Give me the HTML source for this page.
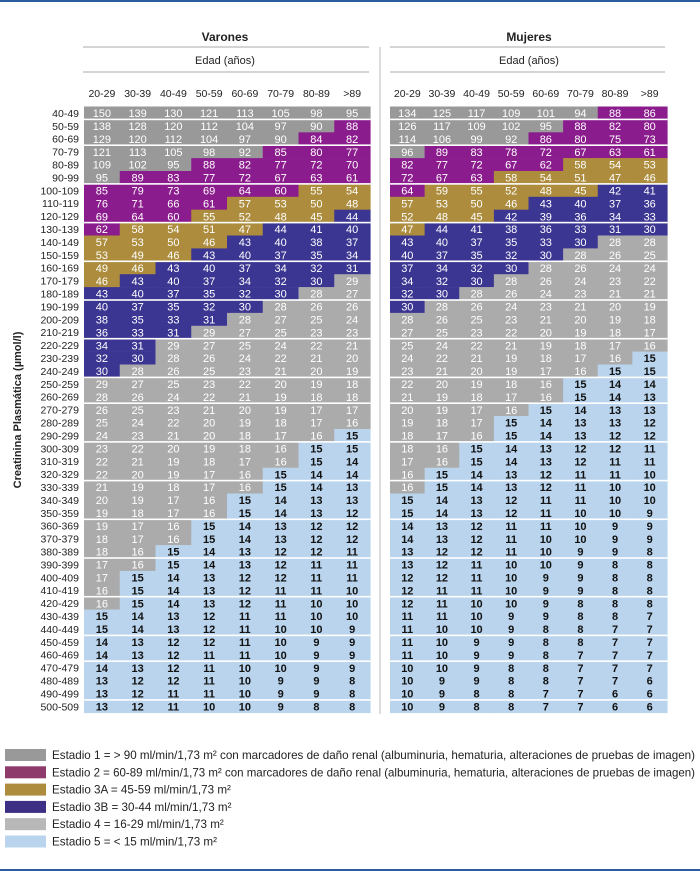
<!DOCTYPE html>
<html><head><meta charset="utf-8"><style>
body{margin:0;background:#fff;}
svg{display:block;font-family:"Liberation Sans Narrow","Liberation Sans",sans-serif;}
</style></head><body>
<svg id="chart" width="700" height="874" viewBox="0 0 700 874" xmlns="http://www.w3.org/2000/svg">
<rect x="0" y="0" width="700" height="2" fill="#2a5c9f"/>
<rect x="0" y="869" width="700" height="2" fill="#2a5c9f"/>
<text x="225" y="41" text-anchor="middle" font-size="12" font-weight="bold" fill="#222">Varones</text>
<text x="529" y="41" text-anchor="middle" font-size="12" font-weight="bold" fill="#222">Mujeres</text>
<line x1="83" y1="47" x2="369" y2="47" stroke="#aaa"/>
<line x1="390" y1="47" x2="665" y2="47" stroke="#aaa"/>
<text x="225" y="64" text-anchor="middle" font-size="11" fill="#222">Edad (años)</text>
<text x="529" y="64" text-anchor="middle" font-size="11" fill="#222">Edad (años)</text>
<line x1="83" y1="72" x2="369" y2="72" stroke="#aaa"/>
<line x1="390" y1="72" x2="665" y2="72" stroke="#aaa"/>
<line x1="380" y1="47" x2="380" y2="714" stroke="#bbb"/>
<text transform="translate(21,410) rotate(-90)" text-anchor="middle" font-size="11" font-weight="bold" fill="#222">Creatinina Plasmática (µmol/l)</text>
<g id="grid"></g>
<g id="legend"></g>
</svg>
<script>
const ages = ["20-29","30-39","40-49","50-59","60-69","70-79","80-89",">89"];
const creat = ["40-49","50-59","60-69","70-79","80-89","90-99","100-109","110-119","120-129","130-139","140-149","150-159","160-169","170-179","180-189","190-199","200-209","210-219","220-229","230-239","240-249","250-259","260-269","270-279","280-289","290-299","300-309","310-319","320-329","330-339","340-349","350-359","360-369","370-379","380-389","390-399","400-409","410-419","420-429","430-439","440-449","450-459","460-469","470-479","480-489","490-499","500-509"];
const groupBreaks = [1,3,6,9,12,15,18,21,23,26,29,32,35,38,41,43,46];
const varones = [
[150,139,130,121,113,105,98,95],[138,128,120,112,104,97,90,88],[129,120,112,104,97,90,84,82],
[121,113,105,98,92,85,80,77],[109,102,95,88,82,77,72,70],[95,89,83,77,72,67,63,61],
[85,79,73,69,64,60,55,54],[76,71,66,61,57,53,50,48],[69,64,60,55,52,48,45,44],
[62,58,54,51,47,44,41,40],[57,53,50,46,43,40,38,37],[53,49,46,43,40,37,35,34],
[49,46,43,40,37,34,32,31],[46,43,40,37,34,32,30,29],[43,40,37,35,32,30,28,27],
[40,37,35,32,30,28,26,26],[38,35,33,31,28,27,25,24],[36,33,31,29,27,25,23,23],
[34,31,29,27,25,24,22,21],[32,30,28,26,24,22,21,20],[30,28,26,25,23,21,20,19],
[29,27,25,23,22,20,19,18],[28,26,24,22,21,19,18,18],
[26,25,23,21,20,19,17,17],[25,24,22,20,19,18,17,16],[24,23,21,20,18,17,16,15],
[23,22,20,19,18,16,15,15],[22,21,19,18,17,16,15,14],[22,20,19,17,16,15,14,14],
[21,19,18,17,16,15,14,13],[20,19,17,16,15,14,13,13],[19,18,17,16,15,14,13,12],
[19,17,16,15,14,13,12,12],[18,17,16,15,14,13,12,12],[18,16,15,14,13,12,12,11],
[17,16,15,14,13,12,11,11],[17,15,14,13,12,12,11,11],[16,15,14,13,12,11,11,10],
[16,15,14,13,12,11,10,10],[15,14,13,12,11,11,10,10],[15,14,13,12,11,10,10,9],
[14,13,12,12,11,10,9,9],[14,13,12,11,11,10,9,9],
[14,13,12,11,10,10,9,9],[13,12,12,11,10,9,9,8],[13,12,11,11,10,9,9,8],
[13,12,11,10,10,9,8,8]];
const mujeres = [
[134,125,117,109,101,94,88,86],[126,117,109,102,95,88,82,80],[114,106,99,92,86,80,75,73],
[96,89,83,78,72,67,63,61],[82,77,72,67,62,58,54,53],[72,67,63,58,54,51,47,46],
[64,59,55,52,48,45,42,41],[57,53,50,46,43,40,37,36],[52,48,45,42,39,36,34,33],
[47,44,41,38,36,33,31,30],[43,40,37,35,33,30,28,28],[40,37,35,32,30,28,26,25],
[37,34,32,30,28,26,24,24],[34,32,30,28,26,24,23,22],[32,30,28,26,24,23,21,21],
[30,28,26,24,23,21,20,19],[28,26,25,23,21,20,19,18],[27,25,23,22,20,19,18,17],
[25,24,22,21,19,18,17,16],[24,22,21,19,18,17,16,15],[23,21,20,19,17,16,15,15],
[22,20,19,18,16,15,14,14],[21,19,18,17,16,15,14,13],
[20,19,17,16,15,14,13,13],[19,18,17,15,14,13,13,12],[18,17,16,15,14,13,12,12],
[18,16,15,14,13,12,12,11],[17,16,15,14,13,12,11,11],[16,15,14,13,12,11,11,10],
[16,15,14,13,12,11,10,10],[15,14,13,12,11,11,10,10],[15,14,13,12,11,10,10,9],
[14,13,12,11,11,10,9,9],[14,13,12,11,10,10,9,9],[13,12,12,11,10,9,9,8],
[13,12,11,10,10,9,8,8],[12,12,11,10,9,9,8,8],[12,11,11,10,9,9,8,8],
[12,11,10,10,9,8,8,8],[11,11,10,9,9,8,8,7],[11,10,10,9,8,8,7,7],
[11,10,9,9,8,8,7,7],[11,10,9,9,8,7,7,7],
[10,10,9,8,8,7,7,7],[10,9,9,8,8,7,7,6],[10,9,8,8,7,7,6,6],
[10,9,8,8,7,7,6,6]];
const stageNames = ["Estadio 1 = > 90 ml/min/1,73 m² con marcadores de daño renal (albuminuria, hematuria, alteraciones de pruebas de imagen)","Estadio 2 = 60-89 ml/min/1,73 m² con marcadores de daño renal (albuminuria, hematuria, alteraciones de pruebas de imagen)","Estadio 3A = 45-59 ml/min/1,73 m²","Estadio 3B = 30-44 ml/min/1,73 m²","Estadio 4 = 16-29 ml/min/1,73 m²","Estadio 5 = < 15 ml/min/1,73 m²"];
const stageColors = ["#999999","#8b1c8d","#ad8d3d","#3c3693","#ababab","#b9d4ec"];
const legendColors = ["#999999","#8e3b6c","#ad8d3d","#3e2f86","#b8b8b8","#b9d4ec"];

const NS="http://www.w3.org/2000/svg";
const grid=document.getElementById('grid');
const top0=106.5, rowH=12.9;
function yOf(i){return top0+i*rowH;}
function stage(v){return v>=90?0:v>=60?1:v>=45?2:v>=30?3:v>=16?4:5;}
function mk(tag,attrs,parent){const e=document.createElementNS(NS,tag);for(const k in attrs)e.setAttribute(k,attrs[k]);parent.appendChild(e);return e;}
const panels=[{data:varones,x0:84,x1:370,name:'varones'},{data:mujeres,x0:390,x1:667,name:'mujeres'}];
panels.forEach(p=>{
  const cw=(p.x1-p.x0)/ages.length;
  ages.forEach((a,j)=>{
    const t=mk('text',{x:p.x0+cw*(j+0.5),y:97,'text-anchor':'middle','font-size':10.5,fill:'#222'},grid);
    
    
    t.textContent=a;
  });
  p.data.forEach((row,i)=>{
    row.forEach((v,j)=>{
      const s=stage(v);
      const r=mk('rect',{x:p.x0+cw*j,y:yOf(i),width:cw+0.6,height:rowH+0.3,fill:stageColors[s]},grid);
      
      
      const t=mk('text',{x:p.x0+cw*(j+0.5),y:yOf(i)+rowH-2.3,'text-anchor':'middle','font-size':11,fill:s===5?'#111':'#fff','font-weight':s===5?'bold':'normal'},grid);
      
      
      t.textContent=v;
    });
  });
  groupBreaks.forEach(b=>{
    const l=mk('rect',{x:p.x0,y:yOf(b)-0.8,width:p.x1-p.x0+0.6,height:1.6,fill:'#fff'},grid);
    
    
  });
});
creat.forEach((c,i)=>{
  const t=mk('text',{x:79,y:yOf(i)+rowH-2.5,'text-anchor':'end','font-size':10.5,fill:'#222'},grid);
  
  
  t.textContent=c;
});
const lg=document.getElementById('legend');
stageNames.forEach((n,i)=>{
  const y=749+i*17.3;
  const r=mk('rect',{x:5,y:y,width:41,height:12,fill:legendColors[i]},lg);
  
  
  const t=mk('text',{x:52,y:y+10,'font-size':12,fill:'#222'},lg);
  
  
  t.textContent=n;
  const w=t.getComputedTextLength();
  if(w>0){t.setAttribute('textLength',Math.min(w*0.97,643).toFixed(1));t.setAttribute('lengthAdjust','spacingAndGlyphs');}
});
</script>
</body></html>
